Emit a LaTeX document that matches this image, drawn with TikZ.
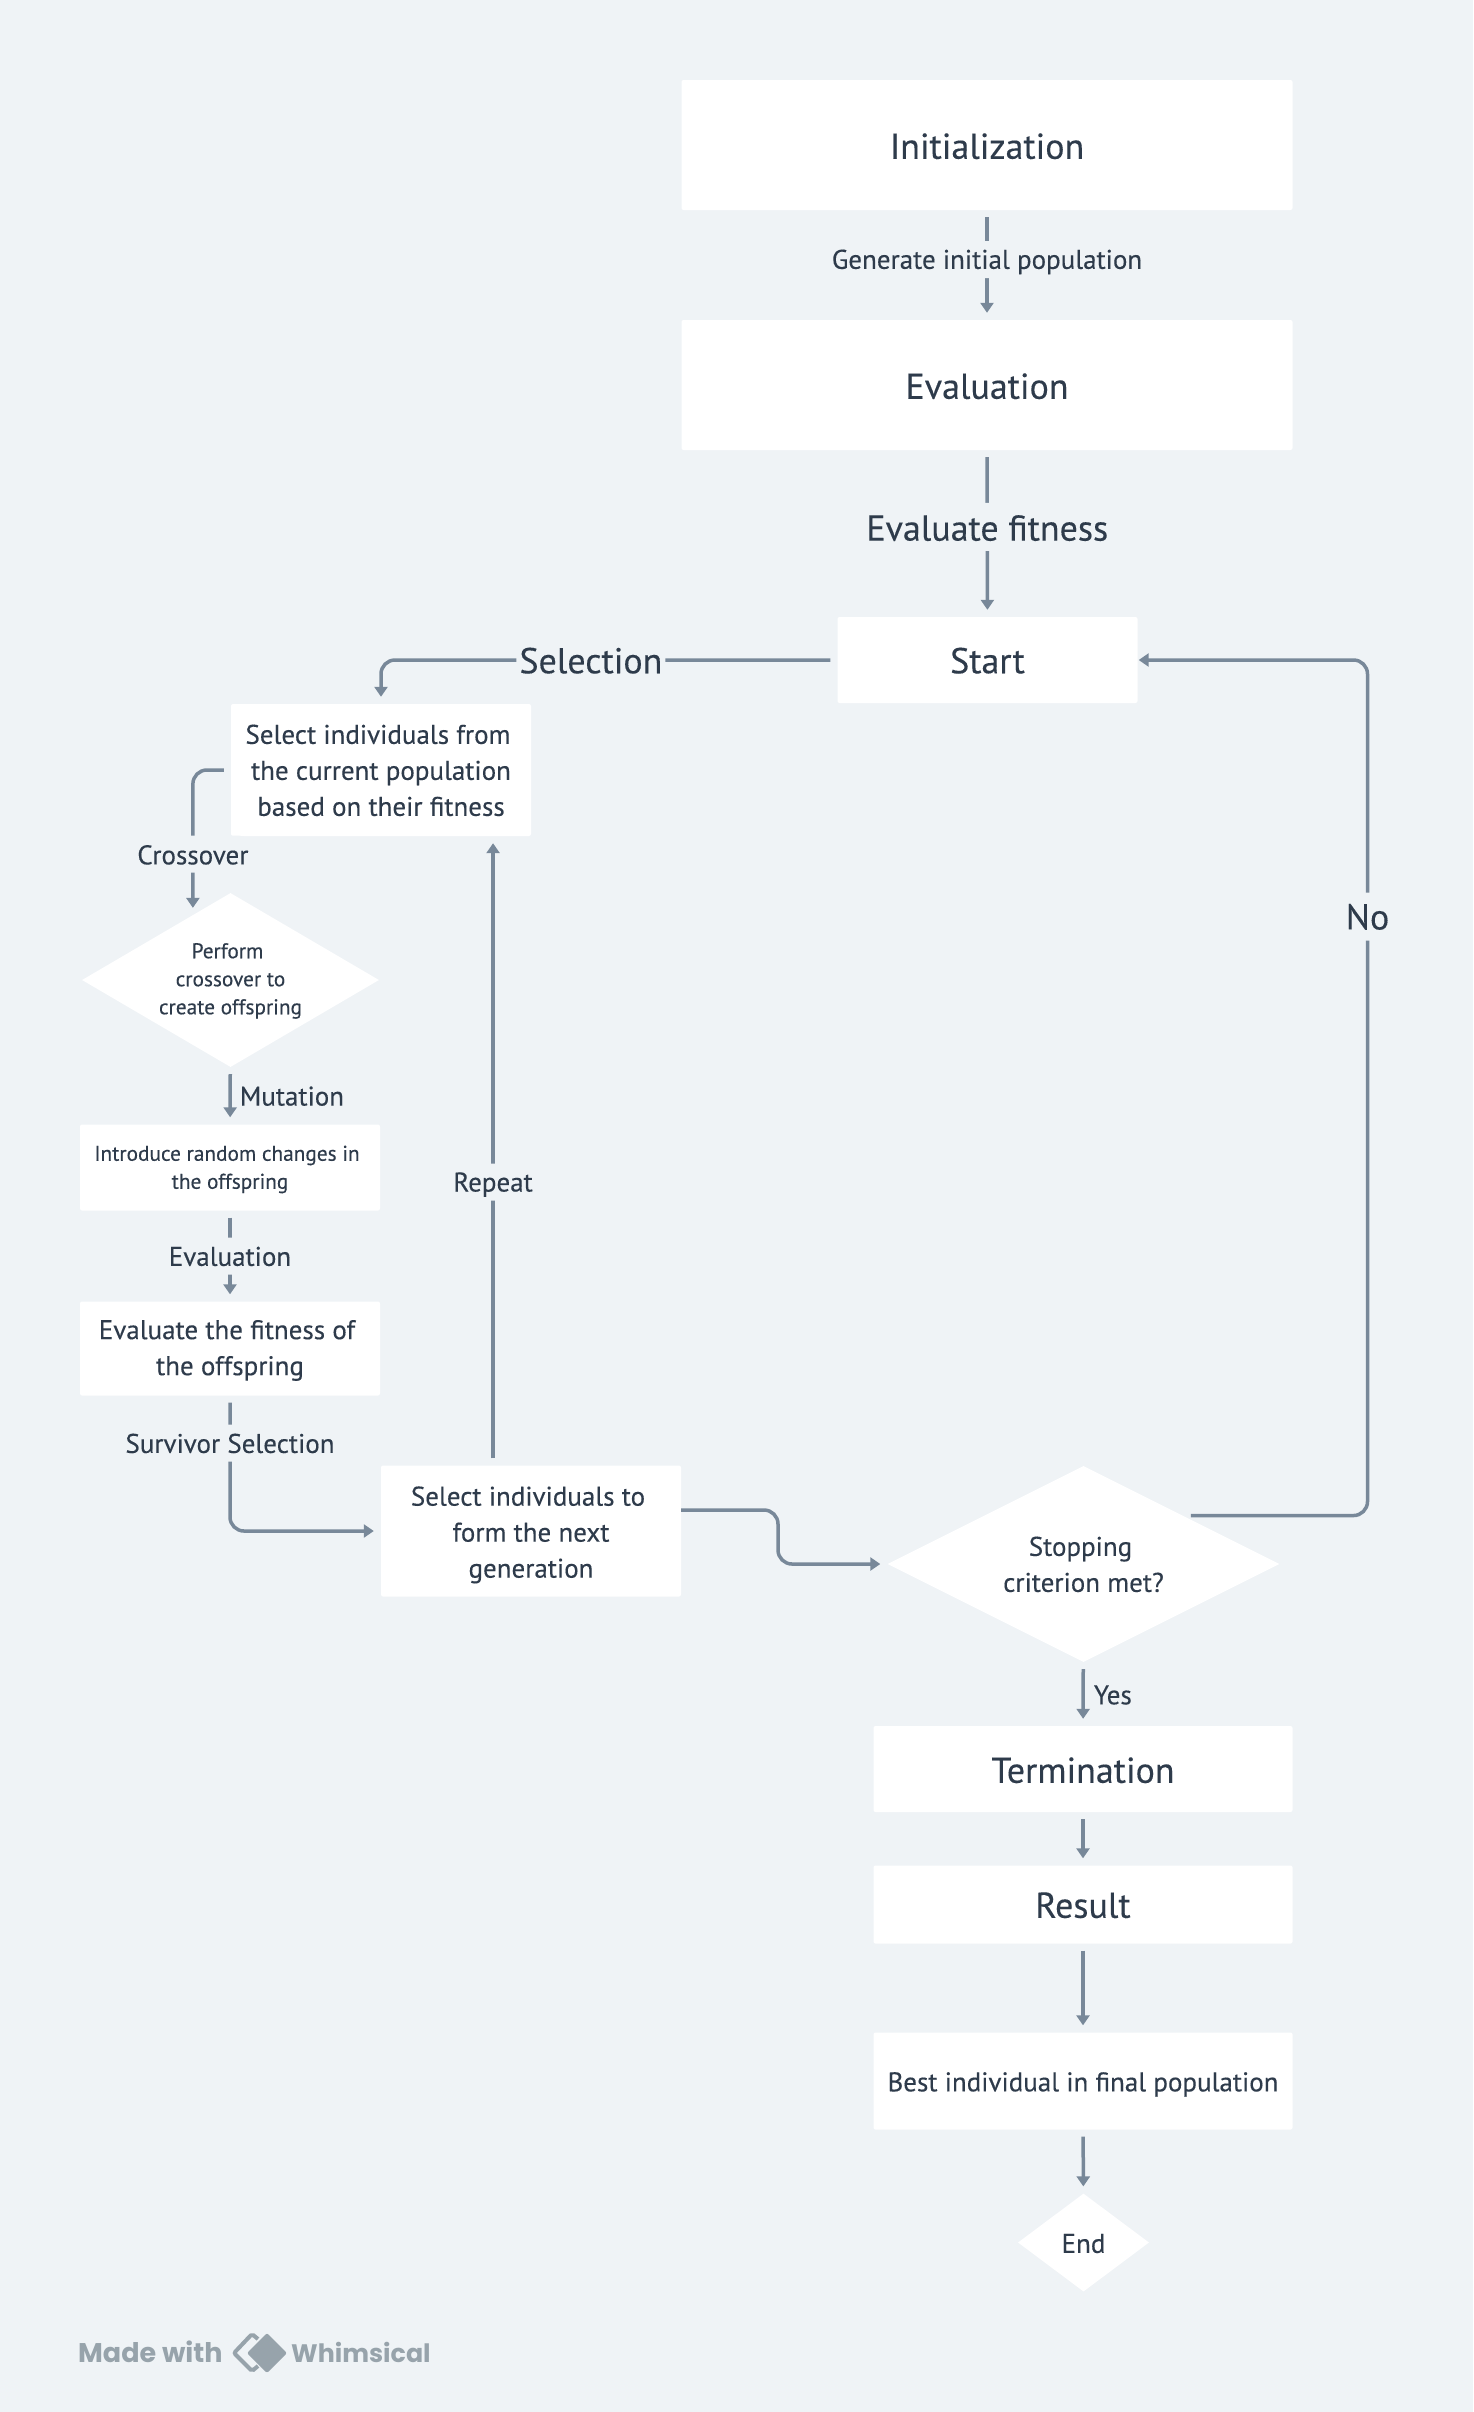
\documentclass[tikz,border=0pt]{standalone}
\usepackage{fontspec}
\setmainfont{PT Sans}[BoldFont=PT Sans, BoldFeatures={FakeBold=0.25}]
\newfontfamily\logofont{Poppins}
\usetikzlibrary{arrows.meta,shapes.geometric}
\definecolor{pagebg}{HTML}{EFF3F6}
\definecolor{inktext}{HTML}{2E3B4B}
\definecolor{linkcol}{HTML}{788899}
\definecolor{logocol}{HTML}{97A3AB}
\newcommand{\dn}[1]{\rule{0pt}{#1pt}}
\newcommand{\tr}{\hspace*{6pt}}
\tikzset{
    fsA/.style={font=\bfseries\fontsize{36}{40}\selectfont},
    fsB/.style={font=\bfseries\fontsize{27}{36}\selectfont},
    fsD/.style={font=\bfseries\fontsize{21.3}{28}\selectfont},
    box/.style={fill=white, text=inktext, align=center, rounded corners=2pt, inner sep=0pt},
    dia/.style={diamond, fill=white, text=inktext, align=center, inner sep=0pt},
    link/.style={->, draw=linkcol, line width=3.5pt, rounded corners=14pt, shorten >=7pt, shorten <=7pt},
    lab/.style={fill=pagebg, text=inktext, inner xsep=3pt, inner ysep=0pt},
    labA/.style={lab, fsA, minimum height=48pt},
    labB/.style={lab, fsB, minimum height=37pt},
}
\begin{document}
\begin{tikzpicture}[x=1pt, y=-1pt, >={Stealth[inset=0pt,length=10pt,width=13pt]}]
    \fill[pagebg] (0,0) rectangle (1473,2412);

    \node[box, fsA, minimum width=611pt, minimum height=130pt] (init) at (987,145) {\dn{28}Initialization};
    \node[box, fsA, minimum width=611pt, minimum height=130pt] (evalall) at (987,385) {\dn{28}Evaluation};
    \node[box, fsA, minimum width=300pt, minimum height=86pt] (start) at (987.5,660) {\dn{27}Start};
    \node[box, fsB, minimum width=300pt, minimum height=132pt] (select) at (381,770)
        {\dn{20}Select individuals from\tr\\the current population\tr\\based on their fitness};
    \node[dia, fsD, minimum width=297pt, minimum height=174pt, aspect=1.7] (cross) at (230.5,980)
        {\dn{17}Perform\tr\\crossover to\tr\\create offspring};
    \node[box, fsD, minimum width=300pt, minimum height=86pt] (intro) at (230,1167.5)
        {\dn{19}Introduce random changes in\tr\\the offspring};
    \node[box, fsB, minimum width=300pt, minimum height=94pt] (evalkid) at (230,1348.5)
        {\dn{23}Evaluate the fitness of\tr\\the offspring};
    \node[box, fsB, minimum width=300pt, minimum height=131pt] (nextgen) at (531,1531)
        {\dn{27}Select individuals to\tr\\form the next\tr\\generation};
    \node[dia, fsB, minimum width=392pt, minimum height=196pt, aspect=2] (stop) at (1083.5,1564)
        {\dn{20}Stopping\tr\\criterion met?};
    \node[box, fsA, minimum width=419pt, minimum height=86pt] (term) at (1083,1769) {\dn{28}Termination};
    \node[box, fsA, minimum width=419pt, minimum height=78pt] (result) at (1083,1904.5) {\dn{27}Result};
    \node[box, fsB, minimum width=419pt, minimum height=97pt] (best) at (1083,2081)
        {\dn{26}Best individual in final population};
    \node[dia, fsB, minimum width=131pt, minimum height=98pt, aspect=1.33] (finish) at (1083.5,2242.5) {\dn{21}End};

    \coordinate (nobend) at (1367.5,660);

    \draw[link] (init) -- node[labB, pos=.45] {\dn{24}Generate initial population} (evalall);
    \draw[link] (evalall) -- node[labA, pos=.46] {\dn{28}Evaluate fitness} (start);
    \draw[link] (start.west) -| node[labA, pos=.27] {\dn{27}Selection} (select.north);
    \draw[link] (select.west) -| node[labB, pos=.79] {\dn{21}Crossover} (cross.120);
    \draw[link] (cross) -- node[labB, right, fill=none, xshift=5pt] {\dn{20}Mutation} (intro);
    \draw[link] (intro) -- node[labB] {\dn{20}Evaluation} (evalkid);
    \draw[link] (evalkid.south) |- node[labB, pos=.175] {\dn{20}Survivor Selection} (nextgen.west);
    \draw[link] (nextgen.120) -- node[labB, pos=.45] {\dn{24}Repeat} (nextgen.120 |- select.south);
    \draw[link, shorten <=0pt] (nextgen.east |- 0,1510) -- (778,1510) -- (778,1564) -- (stop.west);
    \draw[link, shorten <=8pt, shorten >=1pt] (stop.26.5) -| node[labA, pos=.85] {\dn{26}No} (nobend) -- (start.east);
    \draw[link] (stop) -- node[labB, right, fill=none, xshift=6pt] {\dn{21}Yes} (term);
    \draw[link] (term) -- (result);
    \draw[link] (result) -- (best);
    \draw[link] (best) -- (finish);

    \node[text=logocol, anchor=west, inner sep=0pt, font=\logofont\bfseries\fontsize{27}{30}\selectfont] (made) at (78,2352) {Made with};
    \node[text=logocol, anchor=west, inner sep=0pt, font=\logofont\bfseries\fontsize{25.3}{30}\selectfont] (whim) at (291,2352) {Whimsical};
    \draw[logocol, line width=4pt, rounded corners=2pt] (258,2339) -- (252,2334) -- (234,2353) -- (252,2371) -- (258,2366);
    \fill[logocol, rounded corners=2pt] (267,2333) -- (287,2353) -- (267,2373) -- (247,2353) -- cycle;
\end{tikzpicture}
\end{document}
